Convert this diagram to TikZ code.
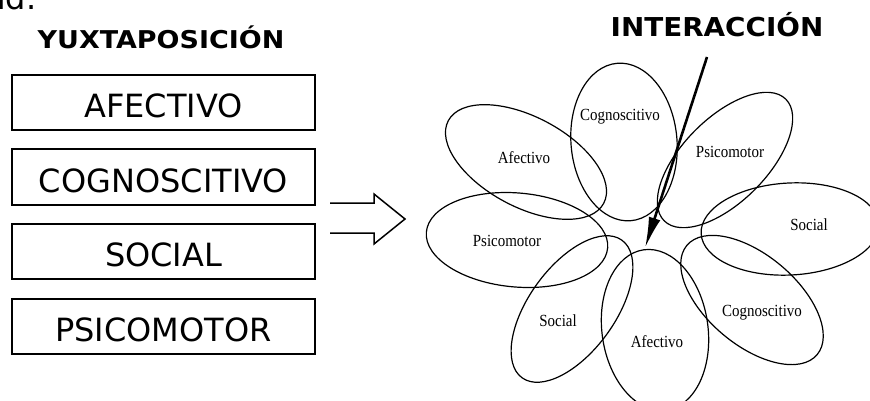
\documentclass[tikz,border=0pt]{standalone}
\usepackage{fontspec}
\setmainfont{DejaVu Sans}
\newfontfamily\petalfont[FakeStretch=0.88]{Liberation Serif}
\newfontfamily\yuxfont[FakeStretch=1.1]{DejaVu Sans}
\newfontfamily\interfont[FakeStretch=1.07]{DejaVu Sans}
\usetikzlibrary{shapes.geometric,arrows.meta}
\tikzset{
  boxnode/.style={draw, line width=2pt, minimum width=303pt, minimum height=55pt,
    inner sep=0pt, font=\fontsize{32}{38}\selectfont, text height=31pt, text depth=0pt},
  petal/.style={draw, ellipse, line width=1.2pt, inner sep=0pt, outer sep=0pt},
  petallabel/.style={font=\petalfont\fontsize{17}{20}\selectfont, inner sep=0pt},
  titletext/.style={inner sep=0pt, anchor=base},
  hollowarrow/.style={draw, line width=1.5pt, line join=miter},
  interarrow/.style={line width=2.6pt, -{Latex[length=31pt,width=12pt]}},
}
\begin{document}
\begin{tikzpicture}[x=1pt,y=-1pt]
\clip (0,0) rectangle (870,401);
\fill[white] (0,0) rectangle (870,401);

% fragment of text cut at the top
\node[anchor=base west, inner sep=0pt, font=\fontsize{32}{38}\selectfont] (frag) at (-14,10) {ad.};

% left column
\node[titletext, font=\yuxfont\bfseries\fontsize{24.5}{29}\selectfont] (yux) at (161,49) {YUXTAPOSICIÓN};
\node[boxnode] (b1) at (163.5,102.5) {AFECTIVO};
\node[boxnode] (b2) at (163.5,177) {COGNOSCITIVO};
\node[boxnode] (b3) at (163.5,251) {SOCIAL};
\node[boxnode] (b4) at (163.5,326) {PSICOMOTOR};

% hollow block arrow
\coordinate (h1) at (330,203);
\coordinate (h2) at (374,203);
\coordinate (h3) at (374,194);
\coordinate (h4) at (405,219);
\coordinate (h5) at (374,244);
\coordinate (h6) at (374,233);
\coordinate (h7) at (330,233);
\draw[hollowarrow] (h1) -- (h2) -- (h3) -- (h4) -- (h5) -- (h6) -- (h7);

% flower of petals
\node[petal, minimum width=106pt, minimum height=158pt, rotate=5]  (pc1) at (624,142) {};
\node[petal, minimum width=176pt, minimum height=90pt, rotate=-28] (pa1) at (526,162) {};
\node[petal, minimum width=182pt, minimum height=94pt, rotate=-5]  (pp1) at (517,240) {};
\node[petal, minimum width=170pt, minimum height=86pt, rotate=54]  (ps1) at (572,309) {};
\node[petal, minimum width=106pt, minimum height=162pt, rotate=8]  (pa2) at (655,330) {};
\node[petal, minimum width=170pt, minimum height=90pt, rotate=-40] (pc2) at (752,300) {};
\node[petal, minimum width=178pt, minimum height=92pt, rotate=3]   (ps2) at (790,229) {};
\node[petal, minimum width=172pt, minimum height=84pt, rotate=45]  (pp2) at (725,160) {};

\node[petallabel] (lc1) at (620,117) {Cognoscitivo};
\node[petallabel] (la1) at (524,158) {Afectivo};
\node[petallabel] (lp1) at (507,241) {Psicomotor};
\node[petallabel] (ls1) at (558,321) {Social};
\node[petallabel] (la2) at (657,342) {Afectivo};
\node[petallabel] (lc2) at (762,313) {Cognoscitivo};
\node[petallabel] (ls2) at (809,225) {Social};
\node[petallabel] (lp2) at (730,152) {Psicomotor};

% interaction label and arrow
\node[titletext, font=\interfont\bfseries\fontsize{26}{31}\selectfont] (inter) at (717,37) {INTERACCIÓN};
\coordinate (i0) at (707,57);
\coordinate (i1) at (645,248);
\draw[interarrow] (i0) -- (i1);
\end{tikzpicture}
\end{document}
